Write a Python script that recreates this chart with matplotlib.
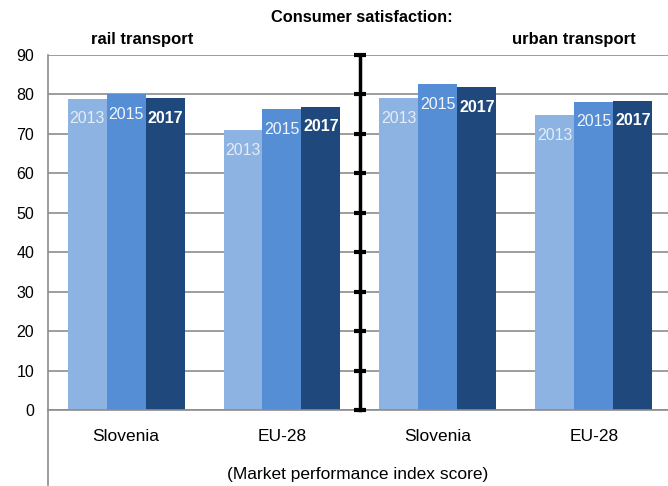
import numpy as np
import matplotlib.pyplot as plt
from matplotlib.lines import Line2D

categories = ['Slovenia', 'EU-28', 'Slovenia', 'EU-28']
years = ['2013', '2015', '2017']
v2013 = [78.9, 71.0, 79.0, 74.8]
v2015 = [80.0, 76.2, 82.6, 78.2]
v2017 = [79.0, 76.9, 81.9, 78.4]
yticks = [0, 10, 20, 30, 40, 50, 60, 70, 80, 90]

colors = ['#8db3e2', '#558ed5', '#1f497d']
txtcol = ['#e4ecf7', '#f2f6fb', 'white']
weights = ['normal', 'normal', 'bold']

plt.rcParams['font.family'] = ['Liberation Sans', 'DejaVu Sans']

fig = plt.figure(figsize=(6.68, 4.86), dpi=100)
ax = fig.add_axes([0.0719, 0.1564, 0.934, 0.7304])

x = np.arange(len(categories))
w = 0.25
for i, vals in enumerate([v2013, v2015, v2017]):
    xs = x + (i - 1) * w
    ax.bar(xs, vals, width=w, color=colors[i], zorder=2)
    for xi, v in zip(xs, vals):
        ax.annotate(years[i], (xi, v), xytext=(0, -14.5), textcoords='offset points',
                    ha='center', va='center', fontsize=11.5, color=txtcol[i],
                    fontweight=weights[i], zorder=3)

ax.set_xlim(-0.5, 3.5)
ax.set_ylim(0, 90)
ax.set_yticks(yticks)
ax.yaxis.grid(True, color='#8c8c8c', linewidth=1.2, zorder=0)
ax.set_axisbelow(True)
ax.tick_params(axis='y', length=0, labelsize=11.5, pad=10)
ax.set_xticks(x)
ax.set_xticklabels(categories, fontsize=12.5)
ax.tick_params(axis='x', length=0, pad=13.5)
for s in ['top', 'right', 'left']:
    ax.spines[s].set_visible(False)
ax.spines['bottom'].set_color('#8c8c8c')
ax.spines['bottom'].set_linewidth(1.2)

# left axis line running down past the labels
ax.add_line(Line2D([0, 0], [1, -0.22], transform=ax.transAxes, color='#8c8c8c',
                   linewidth=1.2, clip_on=False))

# divider between rail and urban transport
ax.plot([1.5, 1.5], [0, 90], color='black', linewidth=2.5, zorder=4, clip_on=False)
ax.plot([1.5] * len(yticks), yticks, linestyle='none', marker='_', markersize=8,
        markeredgewidth=3, color='black', zorder=4, clip_on=False)

fig.text(0.542, 0.963, 'Consumer satisfaction:', ha='center', va='center',
         fontsize=11.8, fontweight='bold')
fig.text(0.213, 0.918, 'rail transport', ha='center', va='center',
         fontsize=12, fontweight='bold')
fig.text(0.859, 0.918, 'urban transport', ha='center', va='center',
         fontsize=12, fontweight='bold')
fig.text(0.536, 0.024, '(Market performance index score)', ha='center', va='center',
         fontsize=12.5)

fig.savefig('out.png', dpi=100)
